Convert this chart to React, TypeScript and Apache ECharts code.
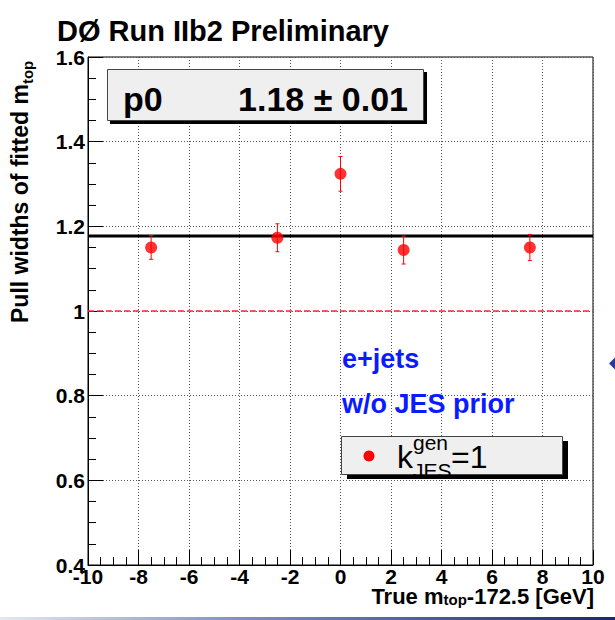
import React, { useEffect, useRef } from "react";
import * as echarts from "echarts";

// ---- data ----
const massShifts = [-7.5, -2.5, 0, 2.5, 7.5];
const pullWidths = [1.15, 1.173, 1.324, 1.144, 1.15];
const pullErrors = [0.028, 0.033, 0.041, 0.033, 0.031];
const fitP0 = 1.177;
const unityRef = 1.0;
const xLimits = [-10, 10];
const yLimits = [0.4, 1.6];

const FONT = "'Liberation Sans', Arial, Helvetica, sans-serif";

export default function App() {
  const ref = useRef<HTMLDivElement>(null);

  useEffect(() => {
    document.body.style.margin = "0";
    const chart = echarts.init(ref.current!, null, { renderer: "svg" });

    const points = massShifts.map((x, i) => [x, pullWidths[i]]);
    const errs = massShifts.map((x, i) => [x, pullWidths[i] - pullErrors[i], pullWidths[i] + pullErrors[i]]);

    const option: any = {
      animation: false,
      backgroundColor: "#ffffff",
      grid: {
        left: 88,
        right: 22,
        top: 57,
        bottom: 55,
        show: true,
        borderColor: "#000",
        borderWidth: 1,
        backgroundColor: "transparent",
      },
      xAxis: {
        type: "value",
        min: xLimits[0],
        max: xLimits[1],
        interval: 2,
        axisLine: { show: true, onZero: false, lineStyle: { color: "#000", width: 1 } },
        axisTick: { show: true, inside: true, length: 15, lineStyle: { color: "#000", width: 1 } },
        minorTick: { show: true, splitNumber: 4, length: 8, lineStyle: { color: "#000", width: 1 } },
        splitLine: { show: true, lineStyle: { color: "#555", width: 1, type: [1, 2] } },
        axisLabel: {
          color: "#000",
          fontFamily: FONT,
          fontWeight: "bold",
          fontSize: 21,
          lineHeight: 17,
          margin: 3,
        },
      },
      yAxis: {
        type: "value",
        min: yLimits[0],
        max: yLimits[1],
        interval: 0.2,
        axisLine: { show: true, onZero: false, lineStyle: { color: "#000", width: 1 } },
        axisTick: { show: true, inside: true, length: 15, lineStyle: { color: "#000", width: 1 } },
        minorTick: { show: true, splitNumber: 4, length: 8, lineStyle: { color: "#000", width: 1 } },
        splitLine: { show: true, lineStyle: { color: "#555", width: 1, type: [1, 2] } },
        axisLabel: {
          color: "#000",
          fontFamily: FONT,
          fontWeight: "bold",
          fontSize: 21,
          margin: 3,
          formatter: (v: number) => String(Math.round(v * 10) / 10),
        },
      },
      series: [
        {
          type: "line",
          data: [
            [xLimits[0], unityRef],
            [xLimits[1], unityRef],
          ],
          showSymbol: false,
          lineStyle: { color: "#ff2a2a", width: 1.6, type: [6, 3] },
          z: 2,
        },
        {
          type: "line",
          data: [
            [xLimits[0], fitP0],
            [xLimits[1], fitP0],
          ],
          showSymbol: false,
          lineStyle: { color: "#000", width: 3 },
          z: 3,
        },
        {
          type: "custom",
          data: errs,
          encode: { x: 0, y: [1, 2] },
          z: 4,
          renderItem: (params: any, api: any) => {
            const x = api.value(0);
            const lo = api.coord([x, api.value(1)]);
            const hi = api.coord([x, api.value(2)]);
            const cap = 2;
            const st = { stroke: "#ff0000", lineWidth: 1 };
            return {
              type: "group",
              children: [
                { type: "line", shape: { x1: lo[0], y1: lo[1], x2: hi[0], y2: hi[1] }, style: st },
                { type: "line", shape: { x1: lo[0] - cap, y1: lo[1], x2: lo[0] + cap, y2: lo[1] }, style: st },
                { type: "line", shape: { x1: hi[0] - cap, y1: hi[1], x2: hi[0] + cap, y2: hi[1] }, style: st },
              ],
            };
          },
        },
        {
          type: "scatter",
          data: points,
          symbol: "circle",
          symbolSize: 12,
          itemStyle: { color: "#ff0000" },
          z: 5,
        },
      ],
      graphic: [
        // title
        {
          type: "text",
          x: 57,
          y: 31,
          style: {
            text: "DØ Run IIb2 Preliminary",
            font: `bold 29px ${FONT}`,
            fill: "#000",
            textAlign: "left",
            textVerticalAlign: "middle",
            align: "left",
            verticalAlign: "middle",
          },
        },
        // y-axis title (rotated)
        {
          type: "group",
          x: 29,
          y: 323,
          rotation: Math.PI / 2,
          children: [
            {
              type: "text",
              x: 0,
              y: -24,
              style: {
                text: "{m|Pull widths of fitted m}{s|top}",
                rich: {
                  m: { font: `bold 23px ${FONT}`, fill: "#000", lineHeight: 30, verticalAlign: "middle" },
                  s: { font: `bold 15px ${FONT}`, fill: "#000", lineHeight: 12, verticalAlign: "bottom" },
                },
                textAlign: "left",
                textVerticalAlign: "top",
                align: "left",
                verticalAlign: "top",
              },
            },
          ],
        },
        // x-axis title
        {
          type: "text",
          x: 594,
          y: 586,
          style: {
            text: "{m|True m}{s|top}{m|-172.5 [GeV]}",
            rich: {
              m: { font: `bold 22px ${FONT}`, fill: "#000", lineHeight: 21, verticalAlign: "middle" },
              s: { font: `bold 15px ${FONT}`, fill: "#000", lineHeight: 4, verticalAlign: "bottom" },
            },
            textAlign: "right",
            textVerticalAlign: "top",
            align: "right",
            verticalAlign: "top",
          },
        },
        // stat box shadow + box
        {
          type: "rect",
          shape: { x: 110, y: 72, width: 317, height: 52 },
          style: { fill: "#000" },
          z: 10,
        },
        {
          type: "rect",
          shape: { x: 107.5, y: 69.5, width: 316, height: 51 },
          style: { fill: "#efefef", stroke: "#444", lineWidth: 1 },
          z: 11,
        },
        {
          type: "text",
          x: 123,
          y: 99,
          z: 12,
          style: {
            text: "p0",
            font: `bold 34px ${FONT}`,
            fill: "#000",
            textAlign: "left",
            textVerticalAlign: "middle",
            align: "left",
            verticalAlign: "middle",
          },
        },
        {
          type: "text",
          x: 408,
          y: 99,
          z: 12,
          style: {
            text: "1.18 ± 0.01",
            font: `bold 34px ${FONT}`,
            fill: "#000",
            textAlign: "right",
            textVerticalAlign: "middle",
            align: "right",
            verticalAlign: "middle",
          },
        },
        // channel labels
        {
          type: "text",
          x: 342,
          y: 359,
          z: 12,
          style: {
            text: "e+jets",
            font: `bold 27px ${FONT}`,
            fill: "#0a1cff",
            textAlign: "left",
            textVerticalAlign: "middle",
            align: "left",
            verticalAlign: "middle",
          },
        },
        {
          type: "text",
          x: 342,
          y: 404,
          z: 12,
          style: {
            text: "w/o JES prior",
            font: `bold 27px ${FONT}`,
            fill: "#0a1cff",
            textAlign: "left",
            textVerticalAlign: "middle",
            align: "left",
            verticalAlign: "middle",
          },
        },
        // legend box
        {
          type: "rect",
          shape: { x: 347, y: 441, width: 221, height: 38 },
          style: { fill: "#000" },
          z: 10,
        },
        {
          type: "rect",
          shape: { x: 341.5, y: 436.5, width: 221, height: 38 },
          style: { fill: "#efefef", stroke: "#444", lineWidth: 1 },
          z: 11,
        },
        {
          type: "circle",
          shape: { cx: 369, cy: 456, r: 5.5 },
          style: { fill: "#ff0000" },
          z: 12,
        },
        {
          type: "text",
          x: 397,
          y: 457,
          z: 12,
          style: {
            text: "k",
            font: `32px ${FONT}`,
            fill: "#000",
            textAlign: "left",
            textVerticalAlign: "middle",
            align: "left",
            verticalAlign: "middle",
          },
        },
        {
          type: "text",
          x: 413,
          y: 442,
          z: 12,
          style: {
            text: "gen",
            font: `21px ${FONT}`,
            fill: "#000",
            textAlign: "left",
            textVerticalAlign: "middle",
            align: "left",
            verticalAlign: "middle",
          },
        },
        {
          type: "text",
          x: 413,
          y: 470,
          z: 12,
          style: {
            text: "JES",
            font: `21px ${FONT}`,
            fill: "#000",
            textAlign: "left",
            textVerticalAlign: "middle",
            align: "left",
            verticalAlign: "middle",
          },
        },
        {
          type: "text",
          x: 451,
          y: 457,
          z: 12,
          style: {
            text: "=1",
            font: `32px ${FONT}`,
            fill: "#000",
            textAlign: "left",
            textVerticalAlign: "middle",
            align: "left",
            verticalAlign: "middle",
          },
        },
        // slide decorations at the edge
        {
          type: "polygon",
          shape: { points: [[609, 363.5], [615, 357.5], [621, 363.5], [615, 369.5]] },
          style: { fill: "#2a3a9a" },
          z: 12,
        },
        {
          type: "rect",
          shape: { x: 0, y: 617, width: 615, height: 3 },
          style: {
            fill: new echarts.graphic.LinearGradient(0, 0, 1, 0, [
              { offset: 0, color: "#e4e8f0" },
              { offset: 0.4, color: "#7f8fb8" },
              { offset: 1, color: "#1a2a6a" },
            ]),
          },
          z: 12,
        },
      ],
    };

    chart.setOption(option);
    return () => chart.dispose();
  }, []);

  return (
    <div
      ref={ref}
      style={{ position: "fixed", left: 0, top: 0, width: 615, height: 620 }}
    />
  );
}
